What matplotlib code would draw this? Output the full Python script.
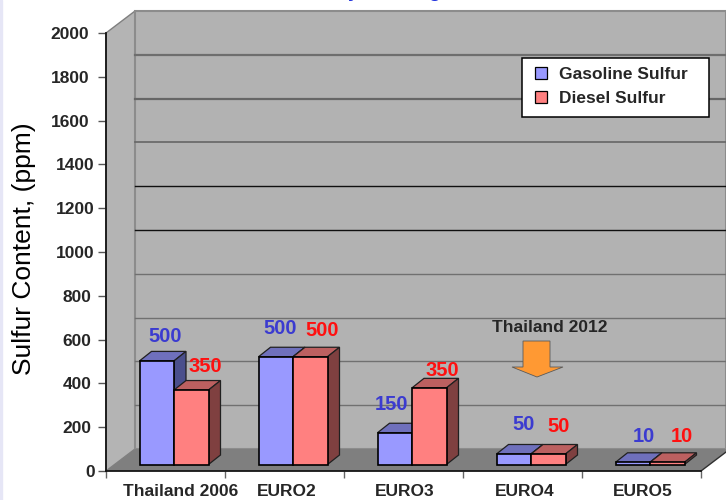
from matplotlib import pyplot as plt
from matplotlib.patches import Patch, Polygon, Rectangle

#=================== DATA ===================#
categories = ["Thailand 2006", "EURO2", "EURO3", "EURO4", "EURO5"]
y_ticks = [0, 200, 400, 600, 800, 1000, 1200, 1400, 1600, 1800, 2000]

# bar heights as drawn, labels as printed
gasoline_heights = [473, 492, 145, 48, 10]
diesel_heights = [340, 492, 350, 48, 10]
gasoline_labels = ["500", "500", "150", "50", "10"]
diesel_labels = ["350", "500", "350", "50", "10"]

#=================== LAYOUT ===================#
W, H = 726, 500
AX_L, AX_R = 106, 701
AX_TOP, AX_BOT = 33, 471
DEPTH_PX_X, DEPTH_PX_Y = 29, 22


def xd(px):
    return (px - AX_L) / (AX_R - AX_L) * len(categories)


def yd(py):
    return (AX_BOT - py) / (AX_BOT - AX_TOP) * 2000


DX, DY = xd(AX_L + DEPTH_PX_X), yd(AX_BOT - DEPTH_PX_Y)
BAR_W = xd(AX_L + 34.5)
BAR_DX, BAR_DY = xd(AX_L + 12), yd(AX_BOT - 9.5)
BASE = yd(464.5)
BAR_SHIFT = xd(AX_L + 8.5)
N = len(categories)

plt.rcParams["font.family"] = ["Liberation Sans", "DejaVu Sans"]

fig = plt.figure(figsize=(W / 100, H / 100), dpi=100)
ax = fig.add_axes([AX_L / W, 1 - AX_BOT / H, (AX_R - AX_L) / W, (AX_BOT - AX_TOP) / H])
ax.set_xlim(0, N)
ax.set_ylim(0, 2000)
ax.patch.set_visible(False)

# pale strip down the left edge
fig.patches.append(Rectangle((0, 0), 2 / W, 1, transform=fig.transFigure, color="#E6E6F6", zorder=0))
# only the descenders of the title are left at the top edge
for px, ch in [(353, "y"), (434, "g")]:
    fig.text(px / W, 1 + 3 / H, ch, color="#2233DD", fontsize=14, fontweight="bold", ha="center", va="baseline")

#=================== WALLS ===================#
right = xd(726)
ax.add_patch(Polygon([(0, 0), (DX, DY), (DX, 2000 + DY), (0, 2000)], fc="#B4B4B4", ec="#7F7F7F",
                     lw=1, clip_on=False, zorder=1))
ax.add_patch(Polygon([(DX, DY), (right, DY), (right, 2000 + DY), (DX, 2000 + DY)], fc="#B2B2B2", ec="#8C8C8C",
                     lw=1.5, clip_on=False, zorder=1))
ax.add_patch(Polygon([(0, 0), (DX, DY), (N + DX, DY), (N, 0)], fc="#7F7F7F", ec="none",
                     clip_on=False, zorder=2))
ax.plot([N, N + DX], [0, DY], color="#303030", lw=1, clip_on=False, zorder=2)

grid_colors = ["#707070", "#707070", "#707070", "#707070", "#101010", "#101010", "#666666", "#666666", "#6E6E6E"]
grid_widths = [1.0, 1.0, 1.0, 1.0, 1.0, 1.0, 1.2, 1.6, 1.6]
for v, c, lw in zip(y_ticks[1:-1], grid_colors, grid_widths):
    ax.plot([DX, right], [v + DY, v + DY], color=c, lw=lw, clip_on=False, zorder=1.2)


#=================== BARS ===================#
def draw_bar(x, h, front, top, side, z):
    y0, y1 = BASE, BASE + h
    ax.bar(x, h, BAR_W, bottom=y0, align="edge", color=front, edgecolor="black", lw=1.2, zorder=z + 0.2, clip_on=False)
    ax.add_patch(Polygon([(x, y1), (x + BAR_DX, y1 + BAR_DY), (x + BAR_W + BAR_DX, y1 + BAR_DY), (x + BAR_W, y1)],
                         fc=top, ec="#202020", lw=0.9, zorder=z, clip_on=False))
    ax.add_patch(Polygon([(x + BAR_W, y0), (x + BAR_W + BAR_DX, y0 + BAR_DY), (x + BAR_W + BAR_DX, y1 + BAR_DY),
                          (x + BAR_W, y1)], fc=side, ec="#202020", lw=0.9, zorder=z, clip_on=False))


for i in range(N):
    x0 = i + 0.5 + BAR_SHIFT
    draw_bar(x0 - BAR_W, gasoline_heights[i], "#9999FF", "#6F70BC", "#4A4F8C", 3 + i)
    draw_bar(x0, diesel_heights[i], "#FF8080", "#BC6060", "#7F4040", 3.5 + i)

#=================== VALUE LABELS ===================#
gas_label_px = [(165, 336), (280, 329), (392, 405), (524, 425), (644, 437)]
die_label_px = [(205, 366), (322, 330), (442, 371), (559, 427), (682, 437)]
for txt, (px, py) in zip(gasoline_labels, gas_label_px):
    ax.text(xd(px), yd(py), txt, color="#3B3BD0", fontsize=14.5, fontweight="bold", ha="center", va="center", zorder=20)
for txt, (px, py) in zip(diesel_labels, die_label_px):
    ax.text(xd(px), yd(py), txt, color="#FF1010", fontsize=14.5, fontweight="bold", ha="center", va="center", zorder=20)

#=================== ARROW + NOTE ===================#
ax.text(xd(550), yd(328), "Thailand 2012", color="#262626", fontsize=12.5, fontweight="bold", ha="center", va="center", zorder=20)
arrow_px = [(523, 341), (550, 341), (550, 367), (563, 367), (537, 377), (512, 367), (523, 367)]
ax.add_patch(Polygon([(xd(a), yd(b)) for a, b in arrow_px], fc="#FF9933", ec="#5A5A5A", lw=0.6, zorder=20))

#=================== AXES ===================#
for s in ["top", "right"]:
    ax.spines[s].set_visible(False)
for s in ["left", "bottom"]:
    ax.spines[s].set_color("#151515")
    ax.spines[s].set_linewidth(1.3)
    ax.spines[s].set_zorder(15)

ax.set_yticks(y_ticks)
ax.set_yticklabels([str(v) for v in y_ticks], fontsize=12.5, fontweight="bold", color="#262626")
ax.tick_params(axis="y", length=6, width=1, color="#555555")
y_pads = [2, 4.5, 4.5, 4.5, 4.5, 2, 2, 2, 6, 6, 6]
for tick, p in zip(ax.yaxis.get_major_ticks(), y_pads):
    tick.set_pad(p)

ax.set_xticks(range(N + 1))
ax.set_xticklabels([])
ax.tick_params(axis="x", which="major", length=5, width=1, color="#666666")
ax.set_xticks([xd(p) for p in (181, 287, 405, 525, 643)], labels=categories, minor=True, fontsize=12.5,
              fontweight="bold", color="#262626")
ax.tick_params(axis="x", which="minor", length=0, pad=9)

fig.text(24 / W, 1 - 249 / H, "Sulfur Content, (ppm)", rotation=90, fontsize=19, color="black", ha="center", va="center",
         fontweight="medium")

#=================== LEGEND ===================#
ax.add_patch(Rectangle((xd(521.5), yd(117)), xd(709) - xd(521.5), yd(57.5) - yd(117), fc="white", ec="black", lw=1.1,
                       clip_on=False, zorder=24))
leg = ax.legend(handles=[Patch(fc="#9999FF", ec="black", lw=0.9, label="Gasoline Sulfur"),
                         Patch(fc="#FF8080", ec="black", lw=0.9, label="Diesel Sulfur")],
                loc="upper left", bbox_to_anchor=((535 - AX_L) / (AX_R - AX_L), (AX_BOT - 67) / (AX_BOT - AX_TOP)),
                frameon=False, borderaxespad=0, borderpad=0,
                prop={"family": "Liberation Sans", "weight": "bold", "size": 12.5},
                handlelength=0.7, handleheight=0.7, handletextpad=0.7, labelspacing=0.52)
leg.set_zorder(25)
for t in leg.get_texts():
    t.set_color("#262626")

fig.savefig("out.png", dpi=100)
